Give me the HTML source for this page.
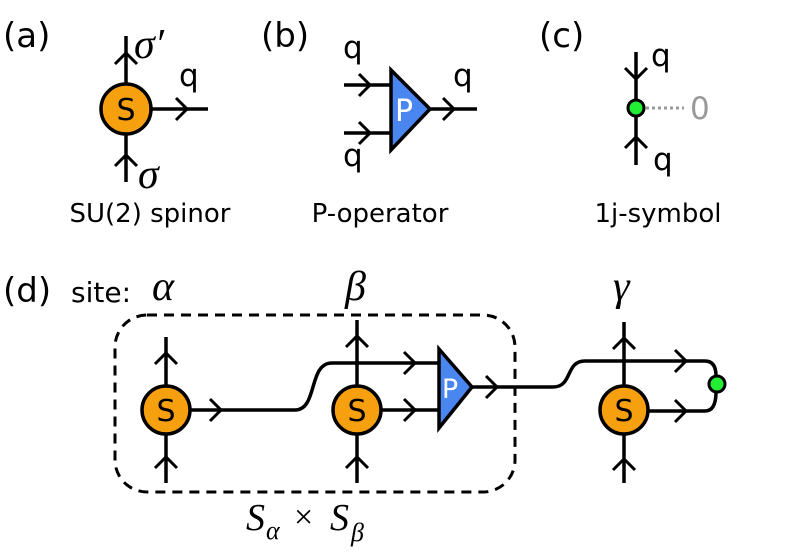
<!DOCTYPE html>
<html><head><style>
html,body{margin:0;padding:0;background:#fff;}
svg{display:block;}
text{font-family:"DejaVu Sans","Liberation Sans",sans-serif;}
.m text{font-family:"Liberation Serif","DejaVu Serif",serif;font-style:italic;}
.m text.n{font-style:normal;}
</style></head><body>
<svg width="789" height="557" viewBox="0 0 789 557" xmlns="http://www.w3.org/2000/svg">
<defs>
<g id="ar"><polyline points="-8,-11 3,0 -8,11" fill="none" stroke="#000" stroke-width="3"/></g>
</defs>
<g stroke="#000" stroke-width="3.5" fill="none">
<line x1="126" y1="36" x2="126" y2="182"/>
<line x1="126" y1="109" x2="208" y2="109"/>
<line x1="344" y1="85" x2="392" y2="85"/>
<line x1="344" y1="133" x2="392" y2="133"/>
<line x1="430" y1="109" x2="477" y2="109"/>
<line x1="636" y1="52" x2="636" y2="165"/>
<line x1="166" y1="337" x2="166" y2="483"/>
<line x1="357" y1="320" x2="357" y2="483"/>
<path d="M166 410 H295 C318 410 308 363 332 363 H440"/>
<line x1="357" y1="410" x2="440" y2="410"/>
<path d="M470 387 H553 C573 387 565 361 585 361 H705 Q716 361 716 376"/>
<path d="M624 411 H705 Q716 411 716 392"/>
<line x1="624" y1="322" x2="624" y2="483"/>
</g>
<line x1="646" y1="108" x2="684" y2="108" stroke="#999" stroke-width="3" stroke-dasharray="3,3"/>
<rect x="115" y="315" width="400" height="177" rx="32" fill="none" stroke="#000" stroke-width="3" stroke-dasharray="10,7"/>
<use href="#ar" transform="translate(126,56) rotate(-90)"/>
<use href="#ar" transform="translate(126,158) rotate(-90)"/>
<use href="#ar" transform="translate(184,109)"/>
<use href="#ar" transform="translate(367,85)"/>
<use href="#ar" transform="translate(367,133)"/>
<use href="#ar" transform="translate(451,109)"/>
<use href="#ar" transform="translate(636,76) rotate(90)"/>
<use href="#ar" transform="translate(636,140) rotate(-90)"/>
<use href="#ar" transform="translate(166,356) rotate(-90)"/>
<use href="#ar" transform="translate(166,460) rotate(-90)"/>
<use href="#ar" transform="translate(357,339) rotate(-90)"/>
<use href="#ar" transform="translate(357,460) rotate(-90)"/>
<use href="#ar" transform="translate(218,410)"/>
<use href="#ar" transform="translate(412,363)"/>
<use href="#ar" transform="translate(412,410)"/>
<use href="#ar" transform="translate(494,387)"/>
<use href="#ar" transform="translate(624,341) rotate(-90)"/>
<use href="#ar" transform="translate(624,462) rotate(-90)"/>
<use href="#ar" transform="translate(683,361)"/>
<use href="#ar" transform="translate(683,411)"/>
<g stroke="#000" stroke-width="3.5">
<circle cx="126" cy="109" r="25" fill="#f7a00f"/>
<circle cx="166" cy="410" r="24" fill="#f7a00f"/>
<circle cx="357" cy="410" r="24" fill="#f7a00f"/>
<circle cx="624" cy="410" r="24" fill="#f7a00f"/>
<polygon points="391,70 391,150 430,109" fill="#4a86f0"/>
<polygon points="439,349 439,428 472,387" fill="#4a86f0"/>
</g>
<g stroke="#000" stroke-width="3">
<circle cx="636" cy="108" r="8" fill="#22ee33"/>
<circle cx="717" cy="384" r="8" fill="#22ee33"/>
</g>
<g font-size="30" text-anchor="middle">
<text x="126" y="120">S</text>
<text x="166" y="421">S</text>
<text x="357" y="421">S</text>
<text x="624" y="421">S</text>
<text x="404" y="121" fill="#fff">P</text>
<text x="450" y="398" fill="#fff" font-size="27">P</text>
</g>
<g font-size="34">
<text x="3" y="47">(a)</text>
<text x="261" y="47">(b)</text>
<text x="539" y="47">(c)</text>
<text x="3" y="302">(d)</text>
<text x="71" y="302" font-size="28">site:</text>
</g>
<g font-size="31">
<text x="179" y="86">q</text>
<text x="343" y="58">q</text>
<text x="343" y="166">q</text>
<text x="453" y="86">q</text>
<text x="651" y="66">q</text>
<text x="653" y="170">q</text>
<text x="690" y="119" fill="#999">0</text>
</g>
<g font-size="26" text-anchor="middle">
<text x="150" y="222">SU(2) spinor</text>
<text x="380" y="222">P-operator</text>
<text x="658" y="222">1j-symbol</text>
</g>
<g class="m" font-size="42">
<text x="134" y="58">σ′</text>
<text x="138" y="188">σ</text>
<text x="152" y="300">α</text>
<text x="345" y="300">β</text>
<text x="613" y="300">γ</text>
<text x="246" y="530" font-size="38">S</text>
<text class="n" x="294" y="528" font-size="34">×</text>
<text x="330" y="530" font-size="38">S</text>
<text x="266" y="539" font-size="26">α</text>
<text x="351" y="541" font-size="26">β</text>
</g>
</svg>
</body></html>
